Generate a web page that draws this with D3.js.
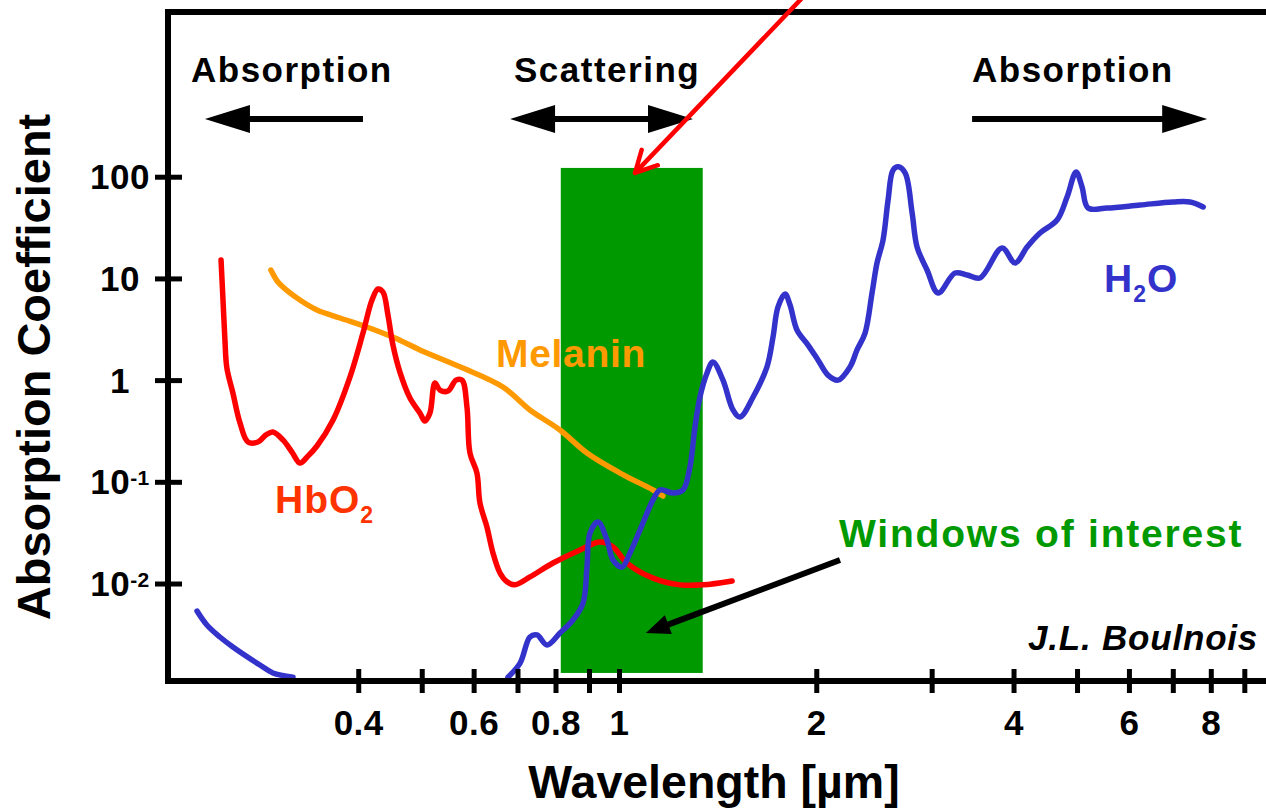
<!DOCTYPE html>
<html>
<head>
<meta charset="utf-8">
<script src="https://cdn.jsdelivr.net/npm/d3@7/dist/d3.min.js"></script>
<style>
  html, body { margin: 0; padding: 0; background: #fff; }
  svg { display: block; }
  text { font-family: "Liberation Sans", Arial, Helvetica, sans-serif; font-weight: bold; }
</style>
</head>
<body>
<svg id="chart" width="1266" height="810"></svg>
<script>
// Oxy-haemoglobin absorption: wavelength (µm) and coefficient
const hbo2Wavelength = [0.247, 0.2487, 0.2504, 0.2521, 0.2575, 0.264, 0.2715, 0.2812, 0.2892, 0.2964,
  0.307, 0.3169, 0.3259, 0.3352, 0.346, 0.3661, 0.3885, 0.4067, 0.4198, 0.4287, 0.4363, 0.444,
  0.4519, 0.4631, 0.4797, 0.4968, 0.5056, 0.5146, 0.5237, 0.533, 0.5483, 0.564, 0.576, 0.5861,
  0.5923, 0.607, 0.6135, 0.6287, 0.6422, 0.6582, 0.6746, 0.6938, 0.7313, 0.793, 0.872, 0.9354,
  0.9791, 1.0285, 1.127, 1.239, 1.343, 1.488];
const hbo2Coefficient = [15.2, 6.13, 2.48, 1.32, 0.747, 0.379, 0.246, 0.246, 0.289, 0.309,
  0.258, 0.196, 0.153, 0.179, 0.225, 0.405, 1.07, 2.9, 6.13, 7.87, 7.35, 4.37,
  2.21, 1.2, 0.667, 0.475, 0.396, 0.475, 0.937, 0.799, 0.781, 1.0, 1.0, 0.544,
  0.192, 0.122, 0.0619, 0.0359, 0.02, 0.0127, 0.0104, 0.0097, 0.0116, 0.0159, 0.0214, 0.0256,
  0.0229, 0.0159, 0.0113, 0.0097, 0.0097, 0.0106];

// Melanin absorption
const melaninWavelength = [0.2943, 0.3017, 0.3147, 0.3259, 0.346, 0.3752, 0.4124, 0.4551, 0.4968,
  0.5721, 0.6651, 0.7313, 0.8126, 0.8936, 1.0035, 1.127, 1.167];
const melaninCoefficient = [12.1, 9.22, 7.19, 6.13, 4.89, 4.08, 3.33, 2.59, 1.98,
  1.35, 0.855, 0.508, 0.323, 0.192, 0.122, 0.0831, 0.0725];

// Water absorption, ultraviolet tail
const waterUvWavelength = [0.227, 0.235, 0.246, 0.2575, 0.2832, 0.2964, 0.3181];
const waterUvCoefficient = [0.00536, 0.00391, 0.00298, 0.00238, 0.00158, 0.00132, 0.0012];

// Water absorption, red to infrared
const waterWavelength = [0.6769, 0.7064, 0.7313, 0.7496, 0.7764, 0.8126, 0.8506, 0.8813, 0.8936,
  0.9031, 0.9289, 0.9587, 0.9791, 1.0106, 1.0394, 1.0766, 1.127, 1.155, 1.209, 1.252, 1.283,
  1.306, 1.329, 1.362, 1.391, 1.441, 1.493, 1.53, 1.602, 1.682, 1.718, 1.748, 1.792, 1.824,
  1.869, 1.943, 2.012, 2.084, 2.159, 2.252, 2.308, 2.374, 2.433, 2.476, 2.529, 2.574, 2.619,
  2.666, 2.733, 2.801, 2.85, 2.952, 3.069, 3.257, 3.398, 3.556, 3.842, 4.022, 4.195, 4.39,
  4.661, 4.828, 4.983, 5.089, 5.197, 5.556, 6.241, 7.008, 7.438, 7.789];
const waterCoefficient = [0.0012, 0.00165, 0.00298, 0.00312, 0.00249, 0.00326, 0.00438, 0.00643, 0.0145,
  0.0314, 0.0402, 0.0268, 0.017, 0.0145, 0.02, 0.0336, 0.0663, 0.0831, 0.0776, 0.0831, 0.14,
  0.346, 0.682, 1.17, 1.51, 1.0, 0.508, 0.434, 0.682, 1.35, 2.65, 5.23, 7.03, 5.48,
  3.11, 2.21, 1.58, 1.12, 1.0, 1.35, 1.98, 2.9, 7.19, 14.2, 23.9, 59, 116,
  125, 109, 44, 20.4, 12.1, 7.19, 11.3, 10.8, 10.1, 19.9, 14.2, 20.4, 28,
  37.5, 63.2, 111, 79.2, 49.2, 49.2, 52.7, 56.4, 56.4, 50.4];

// Therapeutic window: wavelength span and coefficient span of the shaded band
const windowWavelength = [0.815, 1.342];
const windowCoefficient = [0.00132, 122];

// Axis ticks
const xTickValues = [0.4, 0.5, 0.6, 0.7, 0.8, 0.9, 1, 2, 3, 4, 5, 6, 7, 8, 9];
const xTickLabels = ["0.4", "", "0.6", "", "0.8", "", "1", "2", "", "4", "", "6", "", "8", ""];
const yTickValues = [100, 10, 1, 0.1, 0.01];
const yTickBases = ["100", "10", "1", "10", "10"];
const yTickExponents = ["", "", "", "-1", "-2"];

// Annotation arrows: [wavelength, coefficient] endpoints
const absorptionLeftArrow = [[0.4067, 369], [0.2334, 369]];
const scatteringArrow = [[0.682, 369], [1.297, 369]];
const absorptionRightArrow = [[3.458, 369], [7.9, 369]];
const windowPointer = [[2.174, 0.01702], [1.099, 0.00326]];
const bandPointer = [[1.922, 6120], [1.058, 109]];

const svg = d3.select("#chart");

const x = d3.scaleLog().domain([0.205, 10]).range([168, 1274.3]);
const y = d3.scaleLog().domain([0.0011, 4165]).range([681, 12]);

const pairs = (ws, vs) => ws.map((w, i) => [w, vs[i]]);
const line = d3.line()
  .x(d => x(d[0]))
  .y(d => y(d[1]))
  .curve(d3.curveCatmullRom.alpha(0.5));

// shaded window
svg.append("rect")
  .attr("x", x(windowWavelength[0]))
  .attr("width", x(windowWavelength[1]) - x(windowWavelength[0]))
  .attr("y", y(windowCoefficient[1]))
  .attr("height", y(windowCoefficient[0]) - y(windowCoefficient[1]))
  .attr("fill", "#009900");

// absorption spectra
const curves = [
  { data: pairs(melaninWavelength, melaninCoefficient), color: "#ff9900" },
  { data: pairs(hbo2Wavelength, hbo2Coefficient), color: "#ff0000" },
  { data: pairs(waterUvWavelength, waterUvCoefficient), color: "#3333cc" },
  { data: pairs(waterWavelength, waterCoefficient), color: "#3333cc" }
];
svg.append("g").selectAll("path").data(curves).join("path")
  .attr("d", d => line(d.data))
  .attr("fill", "none")
  .attr("stroke", d => d.color)
  .attr("stroke-width", 5.5)
  .attr("stroke-linecap", "round")
  .attr("stroke-linejoin", "round");

// frame: left axis, top border and bottom axis
const [x0, x1] = x.range();
const [yb, yt] = y.range();
svg.append("path")
  .attr("d", `M${x1},${yt}H${x0}V${yb}H${x1}`)
  .attr("fill", "none")
  .attr("stroke", "#000")
  .attr("stroke-width", 6)
  .attr("stroke-linecap", "square");

// x axis ticks and labels
const gx = svg.append("g")
  .attr("transform", `translate(0,${yb})`)
  .call(d3.axisBottom(x).tickValues(xTickValues).tickFormat((d, i) => xTickLabels[i]).tickSize(12));
gx.select(".domain").remove();
gx.attr("font-family", null).attr("font-size", null);
gx.selectAll(".tick line")
  .attr("y1", -12).attr("y2", 12)
  .attr("stroke", "#000").attr("stroke-width", 5);
gx.selectAll(".tick text")
  .attr("y", 54).attr("dy", null)
  .attr("fill", "#000")
  .style("font-size", "35px")
  .style("letter-spacing", "0.5px");

// y axis ticks and labels with exponents
const gy = svg.append("g")
  .attr("transform", `translate(${x0},0)`)
  .call(d3.axisLeft(y).tickValues(yTickValues).tickFormat("").tickSize(13));
gy.select(".domain").remove();
gy.attr("font-family", null).attr("font-size", null);
gy.selectAll(".tick text").remove();
gy.selectAll(".tick line")
  .attr("x1", -13).attr("x2", 14)
  .attr("stroke", "#000").attr("stroke-width", 5);
gy.selectAll(".tick").each(function (d, i) {
  const t = d3.select(this).append("text")
    .attr("x", 120 - x0).attr("y", 12)
    .attr("text-anchor", "middle")
    .attr("fill", "#000")
    .style("font-size", "35px")
    .style("letter-spacing", "0.5px");
  t.append("tspan").text(yTickBases[i]);
  if (yTickExponents[i]) {
    t.append("tspan").attr("dy", -9).style("font-size", "21px").text(yTickExponents[i]);
  }
});

// axis titles
svg.append("text")
  .attr("x", 714).attr("y", 798)
  .attr("text-anchor", "middle")
  .style("font-size", "46.5px")
  .text("Wavelength [µm]");
svg.append("text")
  .attr("transform", "translate(50,367) rotate(-90)")
  .attr("text-anchor", "middle")
  .style("font-size", "47px")
  .text("Absorption Coefficient");

// arrows
const pt = p => [x(p[0]), y(p[1])];
function filledArrow(g, from, to, len, half, both) {
  const a = pt(from), b = pt(to);
  const dx = b[0] - a[0], dy = b[1] - a[1];
  const L = Math.hypot(dx, dy), ux = dx / L, uy = dy / L, nx = -uy, ny = ux;
  const head = (tip, sx, sy) => [tip, [tip[0] - sx * len + nx * half, tip[1] - sy * len + ny * half],
    [tip[0] - sx * len - nx * half, tip[1] - sy * len - ny * half]];
  const start = both ? [a[0] + ux * len * 0.9, a[1] + uy * len * 0.9] : a;
  const end = [b[0] - ux * len * 0.9, b[1] - uy * len * 0.9];
  g.append("line")
    .attr("x1", start[0]).attr("y1", start[1]).attr("x2", end[0]).attr("y2", end[1])
    .attr("stroke", "#000").attr("stroke-width", 6);
  g.append("polygon").attr("points", head(b, ux, uy).join(" ")).attr("fill", "#000");
  if (both) g.append("polygon").attr("points", head(a, -ux, -uy).join(" ")).attr("fill", "#000");
}
const arrows = svg.append("g");
filledArrow(arrows, absorptionLeftArrow[0], absorptionLeftArrow[1], 45, 14, false);
filledArrow(arrows, scatteringArrow[0], scatteringArrow[1], 45, 14, true);
filledArrow(arrows, absorptionRightArrow[0], absorptionRightArrow[1], 45, 14, false);
filledArrow(arrows, windowPointer[0], windowPointer[1], 24, 10, false);

// open red arrow pointing at the band
{
  const a = pt(bandPointer[0]), b = pt(bandPointer[1]);
  const ang = Math.atan2(a[1] - b[1], a[0] - b[0]);
  const arm = 24, spread = Math.PI / 6.5;
  const p1 = [b[0] + arm * Math.cos(ang + spread), b[1] + arm * Math.sin(ang + spread)];
  const p2 = [b[0] + arm * Math.cos(ang - spread), b[1] + arm * Math.sin(ang - spread)];
  svg.append("path")
    .attr("d", `M${a[0]},${a[1]}L${b[0]},${b[1]}M${p1[0]},${p1[1]}L${b[0]},${b[1]}L${p2[0]},${p2[1]}`)
    .attr("fill", "none")
    .attr("stroke", "#ff0000")
    .attr("stroke-width", 4.5)
    .attr("stroke-linecap", "round")
    .attr("stroke-linejoin", "round");
}

// region captions
const captions = svg.append("g").style("font-size", "35px").style("letter-spacing", "1.5px");
captions.append("text").attr("x", 191).attr("y", 82).text("Absorption");
captions.append("text").attr("x", 514).attr("y", 82).text("Scattering");
captions.append("text").attr("x", 972).attr("y", 82).text("Absorption");

// series labels
function chemLabel(px, py, color, parts) {
  const t = svg.append("text").attr("x", px).attr("y", py).attr("fill", color)
    .style("font-size", "39px").style("letter-spacing", "1px");
  parts.forEach(p => {
    const s = t.append("tspan").text(p.text);
    if (p.sub) s.attr("dy", 10).style("font-size", "23px");
    if (p.after) s.attr("dy", -10);
  });
}
chemLabel(275, 513, "#ff3300", [{ text: "HbO" }, { text: "2", sub: true }]);
chemLabel(1104, 292, "#3333cc", [{ text: "H" }, { text: "2", sub: true }, { text: "O", after: true }]);
svg.append("text").attr("x", 496).attr("y", 367).attr("fill", "#ff9900")
  .style("font-size", "39px").style("letter-spacing", "0.7px").text("Melanin");
svg.append("text").attr("x", 839).attr("y", 547).attr("fill", "#009900")
  .style("font-size", "39px").style("letter-spacing", "1.8px").text("Windows of interest");
svg.append("text").attr("x", 1028).attr("y", 650)
  .style("font-size", "35px").style("font-style", "italic").style("letter-spacing", "0.8px")
  .text("J.L. Boulnois");
</script>
</body>
</html>
